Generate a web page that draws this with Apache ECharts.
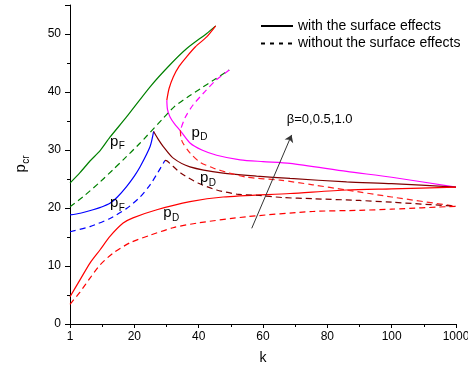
<!DOCTYPE html>
<html>
<head>
<meta charset="utf-8">
<script src="https://cdn.jsdelivr.net/npm/echarts@6/dist/echarts.min.js"></script>
<style>
html,body{margin:0;padding:0;background:#fff}
#main{width:468px;height:367px}
</style>
</head>
<body>
<div id="main"></div>
<script>
// x tick labels (the k axis is piecewise: 1-20, then steps of 20 up to 100, then 100-1000)
const kTicks = ['1', '20', '40', '60', '80', '100', '1000'];

// [k, p_cr]
// with the surface effects (solid)
const greenSolid = [[1,24.3],[3.95,26.1],[6.9,28.1],[9.9,29.9],[12.8,32.2],[17.7,35.7],[24.9,40.9],[31.1,44.7],[36.3,47.5],[42.5,50.1],[45.3,51.4]];
const redFoldSolid = [[45.3,51.4],[42.5,49.5],[39,47.8],[36.3,46.1],[34,44.5],[32.1,42.6],[30.8,40.6],[30.1,38.6]];
const magentaSolid = [[30.1,38.6],[30.3,37],[31.1,35.7],[32.5,34.5],[34.2,33.4],[37.3,31.2],[41,30],[45.6,29.1],[52.9,28.3],[60,28],[68.4,27.7],[86,26.3],[100,25.3],[1000,23.6]];
const blueSolid = [[1,18.8],[4,19.1],[7.8,19.7],[10,20.1],[12.8,20.8],[15,21.9],[17.7,23.7],[20,25.5],[21.8,27.1],[24.9,30.6],[26,33.2]];
const maroonSolid = [[26,33.2],[27.5,31.8],[29,30.6],[32.1,28.6],[37.3,27.1],[47.6,26.0],[58,25.5],[68.4,25.1],[86,24.5],[100,24.2],[1000,23.6]];
const redSolid = [[1,4.7],[3.95,7.6],[6.9,10.5],[9.9,12.8],[12.8,15.1],[16.7,17.4],[19.6,18.3],[27,19.7],[37.3,21.1],[47.6,21.9],[68.4,22.5],[86,23.1],[100,23.3],[1000,23.6]];

// without the surface effects (dashed)
const greenDashed = [[1,20.2],[4.8,21.9],[9.9,24.5],[13.7,26.6],[16.7,28.3],[21.8,31.2],[24,32.5],[28.7,35.3],[32.3,37.4],[36.5,39.1],[40.6,40.6],[44.8,42.1],[49.5,43.8]];
const magentaDashed = [[49.5,43.8],[45.3,42.0],[42,40.1],[38.3,37.8],[35.8,35.6],[34.3,33.4]];
const redFoldDashed = [[34.3,33.4],[34.5,32.1],[35.1,31.2],[37.3,29.5],[40.4,27.9],[44.5,26.9],[49.7,26.0],[55,25.3],[65.3,24.8],[75.5,24.0],[86,23.1],[100,21.9],[1000,20.3]];
const blueDashed = [[1,15.9],[6.9,16.8],[12.8,18.2],[17.7,19.9],[21.8,21.9],[24.9,24.0],[27.4,26.2],[29.5,28.2]];
const maroonDashed = [[29.5,28.2],[30.2,28.1],[34.5,26.0],[39.8,24.3],[45.6,23.1],[51.8,22.4],[58,22.2],[66.2,21.8],[75.5,21.6],[90,21.3],[100,21.0],[1000,20.3]];
const redDashed = [[1,3.4],[3.95,5.5],[6.9,7.9],[9.9,10.2],[13.7,12.2],[18.7,14.0],[24.9,15.3],[32,16.6],[39.5,17.4],[55,18.5],[75.5,19.4],[90,19.6],[100,19.8],[1000,20.3]];

// annotations: [text, sub, k, p]
const curveLabels = [['p','F',12.8,31.3],['p','F',12.8,20.7],['p','D',37.8,32.8],['p','D',40.4,25.0],['p','D',29.0,19.0]];
const betaText = 'β=0,0.5,1.0';
const betaAt = [67.4, 35.2];
const arrowFrom = [56.5, 16.5];
const arrowTo = [68.9, 32.6];

const legendNames = ['with the surface effects', 'without the surface effects'];

const FONT = 'Liberation Sans, Arial, sans-serif';

function kx(k) {
  if (k <= 20) return (k - 1) / 19;
  if (k <= 100) return 1 + (k - 20) / 20;
  return 5 + (k - 100) / 900;
}
const conv = arr => arr.map(d => [kx(d[0]), d[1]]);

function line(data, color, dashed) {
  return {
    type: 'line',
    data: conv(data),
    symbol: 'none',
    smooth: 0.25,
    silent: true,
    lineStyle: { color: color, width: 1.2, type: dashed ? [6, 4] : 'solid' },
    itemStyle: { color: color },
    z: 2
  };
}

// "p" plus a lowered subscript; (x, y) = left edge / middle of the "p"
let gid = 0;
function subText(x, y, main, sub, size, rot) {
  rot = rot || 0;
  const dx = size * 0.58, dy = size * 0.33;
  // local offset (dx, dy) rotated counter-clockwise by rot
  const sx = x + dx * Math.cos(rot) + dy * Math.sin(rot);
  const sy = y - dx * Math.sin(rot) + dy * Math.cos(rot);
  return [
    { type: 'text', id: 't' + (gid++), x: x, y: y, rotation: rot, silent: true, z: 10,
      style: { text: main, font: size + 'px ' + FONT, fill: '#000', align: 'left', verticalAlign: 'middle' } },
    { type: 'text', id: 't' + (gid++), x: sx, y: sy, rotation: rot, silent: true, z: 10,
      style: { text: sub, font: Math.round(size * 0.66) + 'px ' + FONT, fill: '#000', align: 'left', verticalAlign: 'middle' } }
  ];
}

const chart = echarts.init(document.getElementById('main'));
const option = {
  animation: false,
  backgroundColor: '#fff',
  grid: { left: 70, right: 12, top: 5, bottom: 43, outerBoundsMode: 'none' },
  legend: {
    data: legendNames,
    orient: 'vertical',
    left: 260,
    top: 19,
    padding: 0,
    itemWidth: 32,
    itemHeight: 14,
    itemGap: 3.5,
    itemStyle: { opacity: 0 },
    textStyle: { fontSize: 14, color: '#000', fontFamily: FONT },
    selectedMode: false
  },
  xAxis: {
    type: 'value',
    min: 0, max: 6, interval: 1,
    name: 'k',
    nameLocation: 'middle',
    nameGap: 27,
    nameTextStyle: { fontSize: 14, color: '#000', fontFamily: FONT },
    axisLine: { show: true, lineStyle: { color: '#000', width: 1 } },
    axisTick: { show: true, inside: false, length: 4, lineStyle: { color: '#000' } },
    minorTick: { show: true, splitNumber: 2, length: 3, lineStyle: { color: '#000' } },
    splitLine: { show: false },
    minorSplitLine: { show: false },
    axisLabel: {
      fontSize: 12, color: '#000', fontFamily: FONT, margin: 7,
      formatter: v => kTicks[Math.round(v)]
    }
  },
  yAxis: {
    type: 'value',
    min: 0, max: 55, interval: 10,
    axisLine: { show: true, lineStyle: { color: '#000', width: 1 } },
    axisTick: { show: true, inside: false, length: 5, lineStyle: { color: '#000' } },
    minorTick: { show: true, splitNumber: 2, length: 3, lineStyle: { color: '#000' } },
    splitLine: { show: false },
    minorSplitLine: { show: false },
    axisLabel: {
      fontSize: 12, color: '#000', fontFamily: FONT, margin: 9,
      formatter: v => (v % 10 === 0 ? String(v) : '')
    }
  },
  series: [
    line(greenSolid, '#008000', false),
    line(redFoldSolid, '#ff0000', false),
    line(magentaSolid, '#ff00ff', false),
    line(blueSolid, '#0000ff', false),
    line(maroonSolid, '#800000', false),
    line(redSolid, '#ff0000', false),
    line(greenDashed, '#008000', true),
    line(magentaDashed, '#ff00ff', true),
    line(redFoldDashed, '#ff2020', true),
    line(blueDashed, '#0000ff', true),
    line(maroonDashed, '#800000', true),
    line(redDashed, '#ff0000', true),
    {
      name: legendNames[0], type: 'line', data: [], symbol: 'none',
      lineStyle: { color: '#000', width: 1.2 }, itemStyle: { color: '#000' },
      markLine: {
        silent: true, symbol: ['none', 'arrow'], symbolSize: 7,
        label: { show: false },
        lineStyle: { color: '#333', width: 1, type: 'solid' },
        data: [[{ coord: [kx(arrowFrom[0]), arrowFrom[1]] }, { coord: [kx(arrowTo[0]), arrowTo[1]] }]]
      }
    },
    {
      name: legendNames[1], type: 'line', data: [], symbol: 'none',
      lineStyle: { color: '#000', width: 1.2, type: [4, 5] }, itemStyle: { color: '#000' }
    }
  ]
};
chart.setOption(option);

// text annotations placed through the chart's own coordinate conversion
let g = [];
curveLabels.forEach(function (l) {
  const p = chart.convertToPixel({ gridIndex: 0 }, [kx(l[2]), l[3]]);
  g = g.concat(subText(p[0], p[1] - 1, l[0], l[1], 15));
});
const bp = chart.convertToPixel({ gridIndex: 0 }, [kx(betaAt[0]), betaAt[1]]);
g.push({
  type: 'text', id: 'beta', x: bp[0], y: bp[1], silent: true, z: 10,
  style: { text: betaText, align: 'left', verticalAlign: 'middle', fill: '#000', font: '13px ' + FONT }
});
// y axis title p_cr, rotated, centred on the axis
const yTopPx = chart.convertToPixel({ gridIndex: 0 }, [0, 55]);
const yBotPx = chart.convertToPixel({ gridIndex: 0 }, [0, 0]);
g = g.concat(subText(yTopPx[0] - 49, (yTopPx[1] + yBotPx[1]) / 2 + 8, 'p', 'cr', 15, Math.PI / 2));
chart.setOption({ graphic: g });
</script>
</body>
</html>
